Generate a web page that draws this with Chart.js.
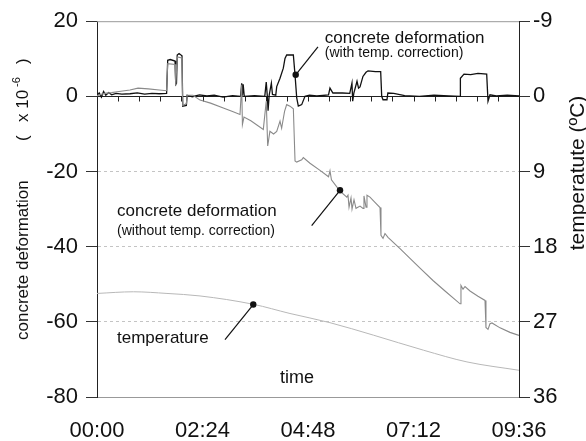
<!DOCTYPE html>
<html>
<head>
<meta charset="utf-8">
<script src="https://cdn.jsdelivr.net/npm/chart.js@4.4.1/dist/chart.umd.min.js"></script>
<style>
  html, body { margin: 0; padding: 0; background: #fff; }
  canvas { display: block; }
</style>
</head>
<body>
<canvas id="chart" width="586" height="441"></canvas>
<script>
// time is minutes after 00:00, deformation in x10^-6, temperature in degC
const corrTime = [0, 3, 6, 9, 12, 16, 20, 26, 34, 45, 55, 65, 75, 85, 95, 96.5, 100, 106.5, 107.5, 108.5, 109.5, 112, 116, 117, 122, 123,
  130, 140, 150, 160, 172, 185, 196, 197.5, 198.5, 199.5, 201, 215, 229, 231, 232.5, 233.5, 235, 238, 239.5, 244, 245.3, 249.8,
  254.3, 256.6, 258.9, 268, 270.3, 272.6, 274.8, 279.4, 283.9, 290, 300, 316, 318, 322, 335, 345, 348, 349, 350.5, 354.9, 357,
  359, 363, 367.2, 370, 380, 387.2, 388.6, 390.4, 395.8, 397, 405, 420, 440, 460, 480, 495.5, 496, 500.9, 510, 520, 531.9, 533.7,
  536.4, 545, 560, 576]
const corrValue = [0.2, 0.9, -0.2, 1.3, 0.3, 1.0, 0.4, 0.8, 0.6, 0.7, 0.9, 0.6, 0.8, 0.7, 0.8, 9.6, 9.8, 9.4, 3.2, 3.5, 11.0, 11.4, 10.8, -2.6, -2.4, 0.3,
  -0.1, 0.4, 0.1, 0.3, -0.2, 0.2, 0, 3.5, 0.2, 3.2, 0, 0.2, 0, 3.8, 0, -3.8, 0.3, 3.5, 0.5, 0.3, 2.6, 4.8,
  7.5, 10.1, 11.0, 11.0, 5.7, -0.4, -2.6, -2.2, 0, 0.3, 0.1, 0.4, 2.2, 0.9, 0.9, 0.8, 3.5, -1.3, 0.8, 4.0, 2.2,
  2.5, 5.3, 6.4, 6.8, 6.6, 6.6, 0, -0.9, -0.9, 0.9, 0.8, 0.2, 0, 0.3, 0.1, 0, 4.8, 5.9, 5.8, 6.1, 5.9, -1.3,
  0.4, 0.1, 0.3, 0.1]

const rawTime = [0, 10, 20, 30, 45, 56, 70, 85, 95, 96.5, 106.5, 107.5, 109.5, 116, 117, 122, 123, 131, 140.6, 155, 172.4, 185,
  195.2, 197.5, 198.5, 200.6, 210, 227, 231, 233, 236, 241, 245.3, 249.8, 252, 256, 258.9, 263.4, 268, 270.3, 272.6, 279.4,
  281.6, 290.7, 304.4, 316, 318, 320, 331.7, 341, 342.6, 344, 346.7, 348.1, 350.8, 353.5, 359, 363.1, 364.4, 367.2, 368.5,
  372.6, 379.4, 386.3, 387.6, 390.4, 393.1, 397.2, 413.6, 427.2, 440.9, 458.6, 475, 495.5, 496.8, 499.6, 502.3, 509.1, 520,
  529.6, 530.9, 533.7, 536.4, 539.1, 550.1, 563.7, 576]
const rawValue = [0.2, 0.8, 1.0, 1.3, 1.7, 2.2, 2.0, 1.7, 1.5, 8.7, 8.5, 2.8, 10.5, 10.2, -2.4, -2.0, 0.3, 0.3, -1.0, -1.8, -3.1, -4.0,
  -4.8, 3.1, -7.5, -5.5, -6.5, -8.8, -1.3, -13.2, -9.3, -10.0, -9.3, -6.6, -8.5, -4.0, -2.2, -2.6, -3.3, -17.2, -17.5, -16.9,
  -16.3, -17.8, -19.7, -21.4, -19.8, -22.2, -25.2, -26.8, -26.3, -29.5, -27.0, -30.0, -27.5, -29.8, -29.2, -29.8, -26.5, -29.5, -26.3,
  -26.8, -28.2, -29.6, -37.0, -37.8, -36.5, -37.5, -40.5, -43.1, -45.7, -49.0, -51.8, -55.2, -50.3, -51.3, -50.6, -51.8, -53.2,
  -54.3, -61.5, -62.0, -60.5, -60.3, -61.6, -62.8, -63.6]

const tempTime = [0, 49.8, 95.5, 140.6, 213.4, 263.4, 318, 377.5, 445.8, 505, 576]
const tempValue = [23.6, 23.4, 23.6, 23.9, 24.9, 26.0, 27.1, 28.6, 30.4, 31.8, 32.8]

const timeTicks = [0, 144, 288, 432, 576]
const minorStep = 28.8

const xy = (ts, vs) => ts.map((t, i) => ({ x: t, y: vs[i] }))
const hhmm = v => {
  const h = Math.floor(v / 60), m = Math.round(v % 60)
  return String(h).padStart(2, '0') + ':' + String(m).padStart(2, '0')
}

const FONT = '"Liberation Sans", Arial, sans-serif'

// callouts, in data units (time, deformation)
const notes = [
  { text: ['concrete deformation', '(with temp. correction)'], at: [311, 15.4, 11.4], from: [301.6, 13.2], dot: [271.2, 5.75] },
  { text: ['concrete deformation', '(without temp. correction)'], at: [27.3, -30.5, -35.8], from: [293, -34.4], dot: [331.7, -25] },
  { text: ['temperature'], at: [27.3, -64.5], from: [174.7, -64.7], dot: [213.3, -55.4] },
]

// left title pieces: text, offset along the axis, size, raise
const leftTitle = [
  ['concrete deformation', 0, 17, 0],
  ['(', 199, 17, 0],
  ['x 10', 218, 17, 0],
  ['-6', 253, 11, 6],
  [')', 276, 17, 0],
]

const decor = {
  id: 'decor',
  beforeDatasetsDraw(chart) {
    const { ctx, chartArea: a, scales: { x, y } } = chart
    ctx.save()
    // top frame line
    ctx.strokeStyle = '#999'
    ctx.lineWidth = 1
    ctx.beginPath()
    ctx.moveTo(a.left, a.top + 0.5)
    ctx.lineTo(a.right, a.top + 0.5)
    ctx.stroke()
    // zero axis with minor ticks
    const y0 = Math.round(y.getPixelForValue(0)) + 0.5
    ctx.strokeStyle = '#222'
    ctx.beginPath()
    ctx.moveTo(a.left, y0)
    ctx.lineTo(a.right, y0)
    for (let t = minorStep; t < 576; t += minorStep) {
      const px = Math.round(x.getPixelForValue(t)) + 0.5
      ctx.moveTo(px, y0)
      ctx.lineTo(px, y0 + 5)
    }
    ctx.stroke()
    ctx.restore()
  },
  afterDraw(chart) {
    const { ctx, scales: { x, y } } = chart
    ctx.save()
    ctx.fillStyle = '#111'
    ctx.strokeStyle = '#111'
    ctx.lineWidth = 1.2
    for (const n of notes) {
      const fx = x.getPixelForValue(n.from[0]), fy = y.getPixelForValue(n.from[1])
      const dx = x.getPixelForValue(n.dot[0]), dy = y.getPixelForValue(n.dot[1])
      ctx.beginPath()
      ctx.moveTo(fx, fy)
      ctx.lineTo(dx, dy)
      ctx.stroke()
      ctx.beginPath()
      ctx.arc(dx, dy, 3.2, 0, Math.PI * 2)
      ctx.fill()
      ctx.textBaseline = 'middle'
      ctx.textAlign = 'left'
      n.text.forEach((s, i) => {
        ctx.font = (i === 0 ? '17px ' : '14px ') + FONT
        ctx.fillText(s, x.getPixelForValue(n.at[0]), y.getPixelForValue(n.at[i + 1]))
      })
    }
    // x title inside plot
    ctx.font = '18px ' + FONT
    ctx.textAlign = 'center'
    ctx.fillText('time', x.getPixelForValue(273), y.getPixelForValue(-75))

    // left axis title, reads bottom to top
    ctx.save()
    ctx.translate(23, 340)
    ctx.rotate(-Math.PI / 2)
    ctx.textAlign = 'left'
    ctx.textBaseline = 'middle'
    for (const [s, off, size, raise] of leftTitle) {
      ctx.font = size + 'px ' + FONT
      ctx.fillText(s, off, -raise)
    }
    ctx.restore()

    // right axis title reads bottom to top
    ctx.save()
    ctx.translate(578, 173)
    ctx.rotate(-Math.PI / 2)
    ctx.font = '21px ' + FONT
    ctx.textAlign = 'center'
    ctx.textBaseline = 'middle'
    ctx.fillText('temperatute (ºC)', 0, 0)
    ctx.restore()
    ctx.restore()
  }
}

new Chart(document.getElementById('chart'), {
  type: 'line',
  data: {
    datasets: [
      { label: 'temperature', data: xy(tempTime, tempValue), yAxisID: 'y2', borderColor: '#b8b8b8', borderWidth: 1,
        cubicInterpolationMode: 'monotone' },
      { label: 'without temp. correction', data: xy(rawTime, rawValue), yAxisID: 'y', borderColor: '#8a8a8a', borderWidth: 1.1 },
      { label: 'with temp. correction', data: xy(corrTime, corrValue), yAxisID: 'y', borderColor: '#111', borderWidth: 1.3 },
    ]
  },
  options: {
    responsive: false,
    animation: false,
    events: [],
    layout: { padding: { top: 19, left: 0, right: 0, bottom: 0 } },
    elements: { point: { radius: 0 }, line: { tension: 0, fill: false } },
    plugins: { legend: { display: false }, tooltip: { enabled: false } },
    scales: {
      x: {
        type: 'linear', min: 0, max: 576,
        afterBuildTicks: s => { s.ticks = timeTicks.map(v => ({ value: v })) },
        afterFit: s => { s.height = 44 },
        grid: { display: false, drawTicks: false },
        border: { display: true, color: '#999', width: 1 },
        ticks: { callback: v => hhmm(v), padding: 21, maxRotation: 0, autoSkip: false,
          color: '#111', font: { family: FONT, size: 22 } }
      },
      y: {
        position: 'left', min: -80, max: 20,
        afterFit: s => { s.width = 97 },
        ticks: { stepSize: 20, padding: 8, color: '#111', font: { family: FONT, size: 22 } },
        grid: {
          color: c => [-20, -40, -60].includes(c.tick.value) ? '#c4c4c4' : 'rgba(0,0,0,0)',
          tickColor: '#333', tickLength: 11, tickBorderDash: [], lineWidth: 1
        },
        border: { display: true, color: '#222', width: 1, dash: [3, 3] }
      },
      y2: {
        position: 'right', min: -9, max: 36, reverse: true,
        afterFit: s => { s.width = 67 },
        ticks: { stepSize: 9, padding: 3, color: '#111', font: { family: FONT, size: 22 } },
        grid: { drawOnChartArea: false, tickColor: '#333', tickLength: 11 },
        border: { display: true, color: '#222', width: 1 }
      }
    }
  },
  plugins: [decor]
})
</script>
</body>
</html>
